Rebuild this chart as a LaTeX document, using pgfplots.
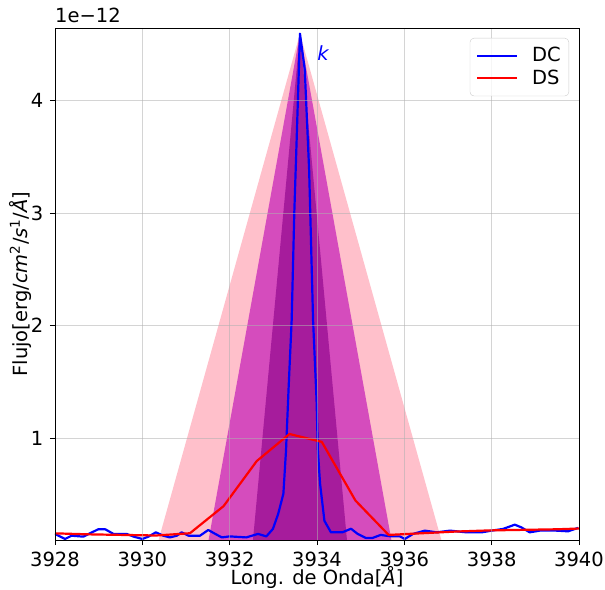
\documentclass[border=0pt]{standalone}
\usepackage{pgfplots}
\pgfplotsset{compat=1.18}
\usepackage{fontspec}
\setmainfont{DejaVu Sans}
\definecolor{trpink}{RGB}{255,192,203}
\definecolor{trmag}{RGB}{213,76,189}
\definecolor{trdark}{RGB}{166,28,156}
\definecolor{gridc}{RGB}{176,176,176}
\newcommand{\fs}{\fontsize{19.5pt}{23pt}\selectfont}
\begin{document}
\fs
\begin{tikzpicture}
\begin{axis}[
  name=ax,
  scale only axis,
  width=524pt, height=512pt,
  xmin=3928, xmax=3940, ymin=0.10, ymax=4.64,
  xtick={3928,3930,3932,3934,3936,3938,3940},
  ytick={1,2,3,4},
  scaled ticks=false,
  /pgf/number format/.cd, 1000 sep={}, assume math mode=true,
  /pgfplots/.cd,
  tick align=outside,
  major tick length=5pt,
  tick style={black, line width=0.8pt},
  xtick pos=bottom, ytick pos=left,
  axis line style={black, line width=0.8pt},
  grid=major,
  major grid style={draw=gridc, line width=0.8pt, opacity=0.55},
  axis on top,
  tick label style={font=\fs},
  xlabel={Long. de Onda[\textit{Å}]},
  ylabel={Flujo[erg/\textit{cm}\textsuperscript{2}/\textit{s}\textsuperscript{1}/\textit{Å}]},
  xlabel style={at={(axis description cs:0.5,-0.074)}, anchor=center, font=\fs},
  ylabel style={at={(axis description cs:-0.066,0.5)}, anchor=center, font=\fs},
  legend style={at={(0.981,0.9805)}, anchor=north east, draw=black!20, rounded corners=4pt,
    fill=white, fill opacity=0.8, text opacity=1, draw opacity=1, font=\fs,
    inner xsep=6pt, inner ysep=7pt, row sep=1pt, column sep=12pt},
  legend cell align=left,
  legend image code/.code={\draw[line width=2.2pt,#1,sharp corners] (0pt,0pt) -- (40pt,0pt);},
]
% fills (triangles)
\addplot[fill=trpink, draw=none, forget plot] coordinates {(3930.30,0) (3933.61,4.59) (3936.92,0)} -- cycle;
\addplot[fill=trmag, draw=none, forget plot] coordinates {(3931.47,0) (3933.61,4.59) (3935.75,0)} -- cycle;
\addplot[fill=trdark, draw=none, forget plot] coordinates {(3932.51,0) (3933.61,4.59) (3934.71,0)} -- cycle;
% DC
\addplot[color=blue, line width=2.2pt, line join=round] coordinates {
(3928.00,0.154) (3928.23,0.109) (3928.38,0.138) (3928.65,0.130) (3928.80,0.159)
(3928.99,0.195) (3929.15,0.195) (3929.34,0.154) (3929.64,0.154) (3929.80,0.130)
(3930.00,0.109) (3930.14,0.130) (3930.31,0.168) (3930.48,0.138) (3930.63,0.123)
(3930.79,0.138) (3930.90,0.168) (3931.06,0.138) (3931.32,0.138) (3931.51,0.189)
(3931.67,0.154) (3931.82,0.123) (3932.00,0.132) (3932.38,0.123) (3932.65,0.154)
(3932.84,0.132) (3932.99,0.198) (3933.11,0.330) (3933.23,0.510) (3933.29,0.890)
(3933.35,1.45) (3933.42,2.05) (3933.48,3.00) (3933.53,3.60) (3933.61,4.59)
(3933.72,4.27) (3933.82,3.38) (3933.91,2.05) (3933.99,1.34) (3934.02,0.89)
(3934.07,0.600) (3934.17,0.270) (3934.32,0.168) (3934.58,0.168) (3934.78,0.200)
(3934.93,0.154) (3935.12,0.118) (3935.27,0.118) (3935.46,0.145) (3935.69,0.132)
(3935.90,0.132) (3936.01,0.109) (3936.20,0.154) (3936.47,0.183) (3936.74,0.168)
(3937.05,0.183) (3937.42,0.168) (3937.77,0.168) (3938.00,0.183) (3938.26,0.198)
(3938.53,0.236) (3938.68,0.212) (3938.87,0.168) (3939.10,0.183) (3939.48,0.183)
(3939.75,0.177) (3939.98,0.207)
};
\addlegendentry{DC}
% DS
\addplot[color=red, line width=2.2pt, line join=round] coordinates {
(3928.00,0.159) (3928.78,0.150) (3929.55,0.145) (3930.32,0.140) (3931.09,0.160)
(3931.86,0.400) (3932.62,0.800) (3933.37,1.040) (3934.11,0.970) (3934.88,0.450)
(3935.64,0.145) (3936.41,0.160) (3937.18,0.175) (3937.95,0.185) (3938.72,0.190)
(3939.49,0.195) (3940.26,0.205)
};
\addlegendentry{DS}
\node[text=blue, font=\fs\itshape] at (axis cs:3934.14,4.42) {k};
\end{axis}
\node[anchor=south west, inner sep=0pt, font=\fs] at ([yshift=5pt]ax.north west) {1e−12};
\pgfresetboundingbox
\path ([xshift=-55pt,yshift=-49pt]ax.south west) rectangle ([xshift=26pt,yshift=28pt]ax.north east);
\end{tikzpicture}
\end{document}
